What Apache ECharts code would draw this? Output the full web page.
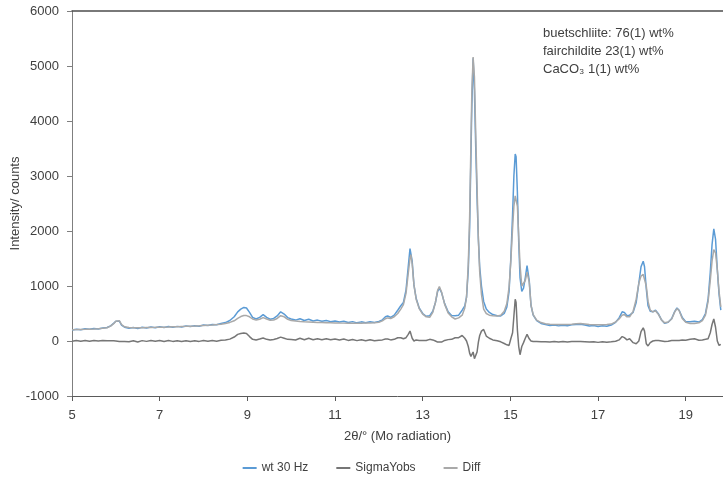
<!DOCTYPE html>
<html>
<head>
<meta charset="utf-8">
<script src="https://cdn.jsdelivr.net/npm/echarts@6/dist/echarts.min.js"></script>
<style>
  html, body { margin: 0; padding: 0; background: #fff; }
  #chart { width: 723px; height: 479px; }
</style>
</head>
<body>
<div id="chart"></div>
<script>
// 2θ positions (Mo radiation)
const twoTheta = [
  5.00, 5.10, 5.20, 5.30, 5.40, 5.50, 5.60, 5.70, 5.80, 5.88, 5.95, 6.00, 6.04, 6.08, 6.13, 6.20, 6.30, 6.40, 6.50, 6.60,
  6.70, 6.80, 6.90, 7.00, 7.10, 7.20, 7.30, 7.40, 7.50, 7.60, 7.70, 7.80, 7.90, 8.00, 8.10, 8.20, 8.30, 8.40, 8.50, 8.60,
  8.70, 8.78, 8.85, 8.92, 8.98, 9.05, 9.12, 9.20, 9.28, 9.36, 9.44, 9.52, 9.60, 9.68, 9.76, 9.84, 9.92, 10.00, 10.10, 10.20,
  10.30, 10.40, 10.50, 10.60, 10.70, 10.80, 10.90, 11.00, 11.10, 11.20, 11.30, 11.40, 11.50, 11.60, 11.70, 11.80, 11.90, 12.00, 12.08, 12.15,
  12.20, 12.27, 12.35, 12.43, 12.50, 12.56, 12.62, 12.67, 12.71, 12.73, 12.76, 12.80, 12.85, 12.92, 13.00, 13.08, 13.16, 13.23, 13.29, 13.34,
  13.38, 13.43, 13.50, 13.58, 13.66, 13.74, 13.82, 13.90, 13.96, 14.00, 14.04, 14.07, 14.10, 14.12, 14.15, 14.18, 14.21, 14.24, 14.27, 14.30,
  14.34, 14.39, 14.45, 14.52, 14.60, 14.70, 14.78, 14.86, 14.92, 14.97, 15.01, 15.05, 15.08, 15.11, 15.13, 15.16, 15.19, 15.22, 15.26, 15.30,
  15.34, 15.38, 15.40, 15.43, 15.47, 15.52, 15.60, 15.70, 15.80, 15.90, 16.00, 16.10, 16.20, 16.30, 16.40, 16.50, 16.60, 16.70, 16.80, 16.90,
  17.00, 17.10, 17.20, 17.30, 17.40, 17.48, 17.55, 17.60, 17.66, 17.72, 17.80, 17.87, 17.93, 17.98, 18.03, 18.06, 18.10, 18.14, 18.19, 18.25,
  18.31, 18.38, 18.45, 18.52, 18.60, 18.68, 18.75, 18.80, 18.85, 18.92, 19.00, 19.10, 19.20, 19.30, 19.38, 19.45, 19.51, 19.56, 19.60, 19.64,
  19.68, 19.72, 19.76, 19.80
];

// observed pattern, "wt 30 Hz"
const wt30Hz = [
  200, 215, 205, 222, 212, 228, 220, 238, 245, 275, 320, 360, 395, 360, 290, 250, 232, 245, 225, 250,
  238, 255, 242, 258, 244, 262, 250, 266, 255, 272, 262, 278, 270, 290, 282, 300, 295, 318, 335, 372,
  440, 530, 580, 610, 600, 520, 430, 400, 430, 480, 430, 395, 410, 455, 530, 490, 425, 400, 380, 405,
  372, 395, 365, 380, 358, 372, 352, 365, 345, 360, 335, 352, 330, 348, 332, 350, 335, 355, 385, 440,
  455, 430, 470, 560, 640, 700, 930, 1350, 1680, 1700, 1450, 1020, 780, 600, 500, 450, 460, 540, 700, 900,
  960, 880, 680, 530, 465, 460, 470, 560, 640, 800, 1300, 2050, 3350, 4250, 5140, 4550, 3500, 2600, 1850, 1350,
  1000, 720, 580, 520, 480, 460, 455, 500, 620, 900, 1500, 2300, 3000, 3400, 3350, 2700, 1800, 1150, 900, 960,
  1150, 1370, 1360, 1100, 650, 470, 370, 320, 300, 282, 292, 275, 288, 278, 295, 300, 305, 290, 272, 280,
  265, 278, 270, 290, 340, 420, 530, 520, 460, 470, 520, 700, 1050, 1350, 1450, 1350, 950, 640, 540, 530,
  560, 490, 380, 320, 340, 410, 540, 600, 560, 430, 350, 350, 360, 345, 390, 500, 760, 1250, 1750, 2040,
  1850, 1300, 850, 560
];

// difference curve, "SigmaYobs"
const sigmaYobs = [
  -5, 8, -5, 10, -3, 10, -2, 8, 3, 5, 5, 0, 3, -10, -10, -8, -13, 3, -17, 7,
  -7, 8, -6, 8, -8, 8, -7, 6, -8, 6, -8, 5, -7, 8, -5, 8, -3, 12, 17, 34,
  72, 120, 135, 145, 138, 80, 30, 20, 35, 55, 30, 17, 28, 45, 70, 50, 30, 28, 18, 50,
  22, 49, 23, 42, 23, 40, 22, 37, 19, 35, 11, 29, 7, 24, 6, 22, 3, 15, 20, 35,
  35, 20, 30, 60, 60, 40, 60, 120, 180, 130, 50, 0, 20, 10, 10, 10, 30, 20, 0, -20,
  -45, -20, 10, 25, 30, 60, 60, 100, 50, 0, -100, -220, -280, -300, -200, -320, -290, -200, -20, 100,
  180, 210, 90, 50, 20, 5, -15, -45, -70, -80, 40, 150, 450, 760, 700, 200, -100, -250, -100, -30,
  50, 120, 100, 40, 0, -10, -10, -15, -12, -20, -8, -20, -10, -18, -8, -10, -10, -15, -20, -12,
  -25, -12, -22, -15, -5, 20, 80, 60, 20, 40, -30, -50, 0, 170, 240, 180, -50, -90, -30, 0,
  10, 10, 0, -10, -5, 10, 10, 10, 10, 20, 15, 30, 40, 15, 20, 30, 40, 150, 300, 400,
  250, 0, -80, -60
];

// calculated pattern, "Diff"
const diffCurve = [
  205, 207, 210, 212, 215, 218, 222, 230, 242, 270, 315, 360, 392, 370, 300, 258, 245, 242, 242, 243,
  245, 247, 248, 250, 252, 254, 257, 260, 263, 266, 270, 273, 277, 282, 287, 292, 298, 306, 318, 338,
  368, 410, 445, 465, 462, 440, 400, 380, 395, 425, 400, 378, 382, 410, 460, 440, 395, 372, 362, 355,
  350, 346, 342, 338, 335, 332, 330, 328, 326, 325, 324, 323, 323, 324, 326, 328, 332, 340, 365, 405,
  420, 410, 440, 500, 580, 660, 870, 1230, 1500, 1570, 1400, 1020, 760, 590, 490, 440, 430, 520, 700, 920,
  990, 890, 670, 510, 440, 400, 420, 470, 600, 800, 1400, 2250, 3600, 4500, 5165, 4800, 3750, 2800, 1850, 1250,
  850, 580, 500, 470, 460, 455, 470, 540, 680, 980, 1450, 2050, 2450, 2640, 2650, 2450, 1900, 1380, 1000, 990,
  1100, 1250, 1270, 1070, 650, 480, 380, 335, 315, 305, 300, 298, 298, 300, 305, 315, 318, 310, 300, 296,
  294, 295, 298, 308, 345, 400, 470, 480, 440, 440, 540, 760, 1050, 1180, 1210, 1180, 1000, 720, 560, 530,
  550, 480, 380, 330, 345, 400, 530, 590, 550, 410, 340, 320, 320, 330, 370, 470, 720, 1100, 1450, 1660,
  1600, 1300, 900, 620
];

const seriesNames = ['wt 30 Hz', 'SigmaYobs', 'Diff'];
const seriesColors = ['#5b9bd5', '#767676', '#a9a9a9'];
const yTicks = [-1000, 0, 1000, 2000, 3000, 4000, 5000, 6000];

const pairs = vals => twoTheta.map((x, i) => [x, vals[i]]);
const seriesData = [wt30Hz, sigmaYobs, diffCurve];

const chart = echarts.init(document.getElementById('chart'));
const fontFam = '"Liberation Sans", "DejaVu Sans", sans-serif';

const option = {
  animation: false,
  backgroundColor: '#ffffff',
  textStyle: { fontFamily: fontFam },
  grid: { left: 72, right: 0, top: 11, bottom: 83, containLabel: false, outerBoundsMode: 'none' },
  legend: {
    data: seriesNames,
    bottom: 0,
    left: 'center',
    icon: 'rect',
    itemWidth: 14,
    itemHeight: 2,
    itemGap: 28,
    textStyle: { fontSize: 12, color: '#404040', fontFamily: fontFam }
  },
  xAxis: [{
    type: 'value',
    position: 'bottom',
    min: 5,
    max: 19.85,
    interval: 2,
    name: '2θ/° (Mo radiation)',
    nameLocation: 'middle',
    nameGap: 34,
    nameMoveOverlap: false,
    nameTextStyle: { fontSize: 13, color: '#404040' },
    axisLine: { onZero: false, lineStyle: { color: '#5a5a5a', width: 1 } },
    axisTick: { show: true, length: 5, inside: false, lineStyle: { color: '#5a5a5a' } },
    axisLabel: { fontSize: 13, color: '#404040', margin: 13,
      showMaxLabel: false,
      formatter: v => String(v) },
    splitLine: { show: false }
  }, {
    type: 'value',
    position: 'top',
    min: 5,
    max: 19.85,
    axisLine: { onZero: false, lineStyle: { color: '#4d4d4d', width: 1.5 } },
    axisTick: { show: false },
    axisLabel: { show: false },
    splitLine: { show: false }
  }],
  yAxis: {
    type: 'value',
    min: yTicks[0],
    max: yTicks[yTicks.length - 1],
    interval: 1000,
    name: 'Intensity/ counts',
    nameLocation: 'middle',
    nameGap: 50,
    nameMoveOverlap: false,
    nameRotate: 90,
    nameTextStyle: { fontSize: 13, color: '#404040' },
    axisLine: { show: true, onZero: false, lineStyle: { color: '#7f7f7f', width: 1 } },
    axisTick: { show: true, length: 5, inside: false, lineStyle: { color: '#7f7f7f' } },
    axisLabel: { fontSize: 13, color: '#404040', margin: 13, formatter: v => String(v) },
    splitLine: { show: false }
  },
  graphic: [{
    type: 'text',
    left: 543,
    top: 24,
    style: {
      text: 'buetschliite: 76(1) wt%\nfairchildite 23(1) wt%\nCaCO₃ 1(1) wt%',
      font: '13px ' + fontFam,
      fill: '#404040',
      lineHeight: 18
    }
  }],
  series: seriesNames.map((name, i) => ({
    name: name,
    type: 'line',
    xAxisIndex: 0,
    data: pairs(seriesData[i]),
    showSymbol: false,
    symbol: 'none',
    clip: true,
    lineStyle: { color: seriesColors[i], width: 1.5 },
    itemStyle: { color: seriesColors[i] }
  }))
};

chart.setOption(option);
</script>
</body>
</html>
